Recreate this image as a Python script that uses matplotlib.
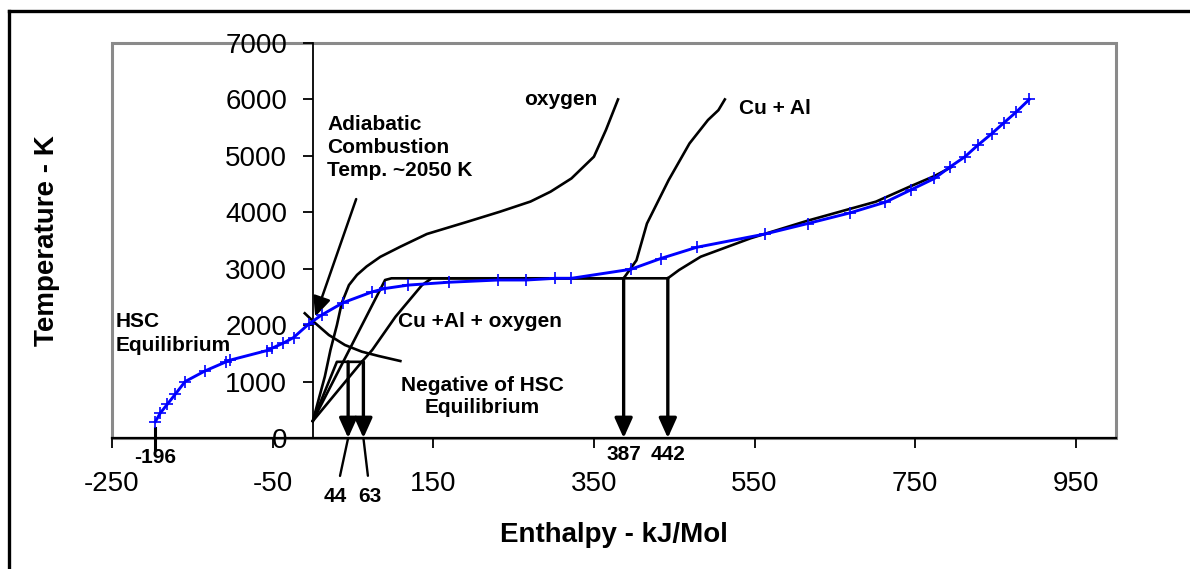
import matplotlib
matplotlib.use("Agg")
import matplotlib.pyplot as plt
from matplotlib.lines import Line2D
from matplotlib.patches import Rectangle

plt.rcParams['font.family'] = ['Liberation Sans', 'DejaVu Sans']
plt.rcParams['axes.unicode_minus'] = False

# HSC equilibrium curve (blue, + markers)
hsc_h = [-196, -190, -181, -171, -159, -134, -108, -103, -57, -51, -37, -24, -5, 11, 38, 74, 90, 119,
         169, 231, 266, 302, 322, 396, 433, 478, 563, 616, 669, 713, 745, 774, 793, 812, 828, 845, 860, 876, 892]
hsc_t = [290, 440, 600, 780, 1000, 1190, 1350, 1380, 1550, 1590, 1680, 1780, 2020, 2180, 2400, 2590, 2650, 2710,
         2760, 2800, 2800, 2830, 2830, 2990, 3180, 3380, 3615, 3800, 3990, 4180, 4400, 4600, 4800, 4985, 5190, 5390, 5580, 5780, 6000]

# oxygen
ox_h = [0, 15, 22, 30, 36, 45, 55, 67, 84, 109, 142, 192, 233, 271, 296, 322, 350, 365, 380]
ox_t = [300, 1090, 1560, 2000, 2390, 2710, 2890, 3040, 3210, 3390, 3615, 3830, 4010, 4190, 4365, 4600, 4985, 5460, 6000]

# Cu + Al
cual_h = [0, 90, 98, 387, 403, 416, 443, 469, 492, 505, 513]
cual_t = [300, 2800, 2830, 2830, 3150, 3800, 4570, 5220, 5635, 5810, 6000]

# Cu + Al + oxygen
cao_h = [0, 30, 61, 74, 103, 136, 148, 442, 456, 483, 545, 616, 701, 745, 774, 795]
cao_t = [300, 1350, 1350, 1560, 2150, 2710, 2830, 2830, 2977, 3213, 3539, 3851, 4188, 4466, 4643, 4800]

# extra line from start to end of the melting step
step_h = [0, 61]
step_t = [300, 1350]

# negative of HSC equilibrium
neg_h = [-10, 1, 20, 40, 61, 82, 109]
neg_t = [2210, 2061, 1825, 1648, 1530, 1453, 1364]

# marked enthalpies (arrows down to the axis)
drop_h = [44, 63, 387, 442]
drop_t = [1350, 1350, 2830, 2830]

x_ticks = [-250, -50, 150, 350, 550, 750, 950]
y_ticks = [0, 1000, 2000, 3000, 4000, 5000, 6000, 7000]

fig = plt.figure(figsize=(11.9, 5.69), dpi=100)
ax = fig.add_axes([112 / 1190, 1 - 438 / 569, 1004 / 1190, 395 / 569])

ax.plot(ox_h, ox_t, color='black', lw=1.9)
ax.plot(cual_h, cual_t, color='black', lw=1.9)
ax.plot(cao_h, cao_t, color='black', lw=1.9)
ax.plot(step_h, step_t, color='black', lw=1.9)
ax.plot(neg_h, neg_t, color='black', lw=1.9)
ax.plot(hsc_h, hsc_t, color='#0000ff', lw=2.1, marker='+', ms=9, mew=1.2, zorder=4)

head = '-|>,head_length=0.6,head_width=0.27'
for h, t in zip(drop_h, drop_t):
    ax.annotate('', xy=(h, 0), xytext=(h, t),
                arrowprops=dict(arrowstyle=head, mutation_scale=20, lw=2.4, color='black',
                                shrinkA=0, shrinkB=0))

# labels of marked enthalpies
bold = dict(fontsize=15, fontweight='bold')
ax.annotate(str(drop_h[0]), xy=(drop_h[0], 0), xytext=(-9, -42), textcoords='offset points',
            ha='center', va='center', annotation_clip=False,
            arrowprops=dict(arrowstyle='-', lw=1.7, color='black', shrinkA=6, shrinkB=0), **bold)
ax.annotate(str(drop_h[1]), xy=(drop_h[1], 0), xytext=(5, -42), textcoords='offset points',
            ha='center', va='center', annotation_clip=False,
            arrowprops=dict(arrowstyle='-', lw=1.7, color='black', shrinkA=6, shrinkB=0), **bold)
for h in drop_h[2:]:
    ax.annotate(str(h), xy=(h, 0), xytext=(0, -12), textcoords='offset points',
                ha='center', va='center', annotation_clip=False, **bold)

# -196 start marker
ax.plot([hsc_h[0], hsc_h[0]], [180, -200], color='black', lw=2.2, clip_on=False)
ax.text(hsc_h[0], -340, str(hsc_h[0]), ha='center', va='center', **bold)

# adiabatic combustion arrow
ax.annotate('', xy=(3, 2150), xytext=(54, 4234),
            arrowprops=dict(arrowstyle=head, mutation_scale=20, lw=1.8, color='black',
                            shrinkA=0, shrinkB=0))
ax.text(18, 5720, 'Adiabatic\nCombustion\nTemp. ~2050 K', ha='left', va='top', linespacing=1.25, **bold)
ax.text(-246, 2230, 'HSC\nEquilibrium', ha='left', va='top', linespacing=1.35, **bold)
ax.text(309, 5990, 'oxygen', ha='center', va='center', **bold)
ax.text(531, 5848, 'Cu + Al', ha='left', va='center', **bold)
ax.text(106, 2073, 'Cu +Al + oxygen', ha='left', va='center', **bold)
ax.text(211, 744, 'Negative of HSC\nEquilibrium', ha='center', va='center', multialignment='center',
        linespacing=1.2, **bold)

ax.set_xlim(-250, 1000)
ax.set_ylim(0, 7000)
ax.set_xticks(x_ticks)
ax.set_yticks(y_ticks)
ax.tick_params(axis='x', length=7, width=1.3, pad=17, labelsize=20, direction='out')
ax.tick_params(axis='y', length=7.5, width=1.3, pad=11, labelsize=20, direction='out')

ax.spines['left'].set_position(('data', 0))
ax.spines['left'].set_linewidth(1.3)
ax.spines['bottom'].set_linewidth(1.6)
ax.spines['top'].set_visible(False)
ax.spines['right'].set_visible(False)
ax.add_patch(Rectangle((0, 0), 1, 1, transform=ax.transAxes, fill=False,
                       edgecolor='#8a8a8a', lw=2.2, clip_on=False, zorder=0))

ax.set_xlabel('Enthalpy - kJ/Mol', fontsize=20, fontweight='bold', va='center')
ax.xaxis.set_label_coords(0.5, -0.2456)
ax.set_ylabel('Temperature - K', fontsize=20, fontweight='bold', va='center')
ax.yaxis.set_label_coords(-0.0647, 0.5)

# outer frame (top and left edges visible)
fig.add_artist(Line2D([9 / 1190, 1], [1 - 10.5 / 569, 1 - 10.5 / 569], color='black', lw=2.4))
fig.add_artist(Line2D([9 / 1190, 9 / 1190], [0, 1 - 10.5 / 569], color='black', lw=2.4))

fig.savefig('out.png', dpi=100)
